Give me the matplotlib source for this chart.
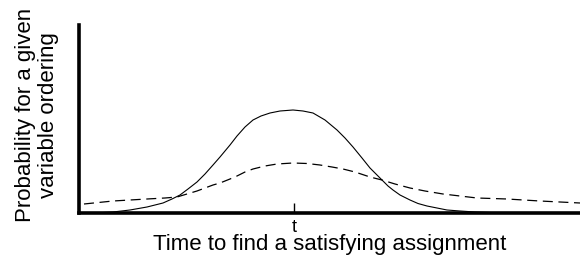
import matplotlib

matplotlib.use("Agg")

import matplotlib.pyplot as plt

# values (x in horizontal units, y = height above baseline)
solid_x = [84, 100, 113, 130, 147, 163, 172, 180, 188, 197, 205, 213, 220, 230, 237,
           245, 253, 261, 270, 280, 293, 303, 313, 325, 337, 345, 353, 362, 370, 376,
           382, 388, 393, 400, 410, 418, 427, 437, 447, 460, 475, 495, 520, 580]
solid_y = [0, 0.3, 1, 3, 6, 10, 14, 18, 24, 31, 39, 48, 56, 68, 77,
           86, 93, 97, 100, 102, 103, 102, 100, 93, 83, 75, 66, 55, 45, 39,
           33, 27, 23, 18, 13, 9.5, 7, 5, 3, 2, 1, 0.3, 0, 0]

dashed_x = [84, 113, 147, 165, 177, 187, 197, 213, 220, 230, 237, 245, 253, 265, 277,
            293, 307, 320, 332, 343, 355, 370, 382, 395, 410, 425, 443, 460, 477, 507,
            540, 580]
dashed_y = [9, 12, 14, 15, 16, 19, 22, 28, 30, 34, 37, 41, 44, 47, 49,
            50, 49.5, 48, 46, 44, 41, 36, 33, 29, 25, 22, 19, 17, 15, 14,
            12, 10]

tick_pos = [294]
tick_labels = ["t"]

plt.rcParams["font.family"] = ["Liberation Sans", "DejaVu Sans"]

fig = plt.figure(figsize=(5.8, 2.6), dpi=100)
ax = fig.add_axes([79 / 580, 47 / 260, 501 / 580, 188 / 260])

ax.plot(solid_x, solid_y, color="black", linewidth=0.8)
ax.plot(dashed_x, dashed_y, color="black", linewidth=0.9, dashes=(8, 4.5))

ax.set_xlim(79, 580)
ax.set_ylim(0, 188)

for side in ("top", "right"):
    ax.spines[side].set_visible(False)
for side in ("left", "bottom"):
    ax.spines[side].set_linewidth(2.6)
    ax.spines[side].set_color("black")

ax.set_xticks(tick_pos)
ax.set_xticklabels(tick_labels, fontsize=13)
ax.set_yticks([])
ax.tick_params(axis="x", direction="in", length=7, width=1, pad=4)

ax.set_xlabel("Time to find a satisfying assignment", fontsize=16, labelpad=-1)
ax.set_ylabel("Probability for a given\nvariable ordering", fontsize=16, linespacing=1.1)
ax.yaxis.set_label_coords(-0.04, 0.52)

fig.savefig("out.png", dpi=100)
